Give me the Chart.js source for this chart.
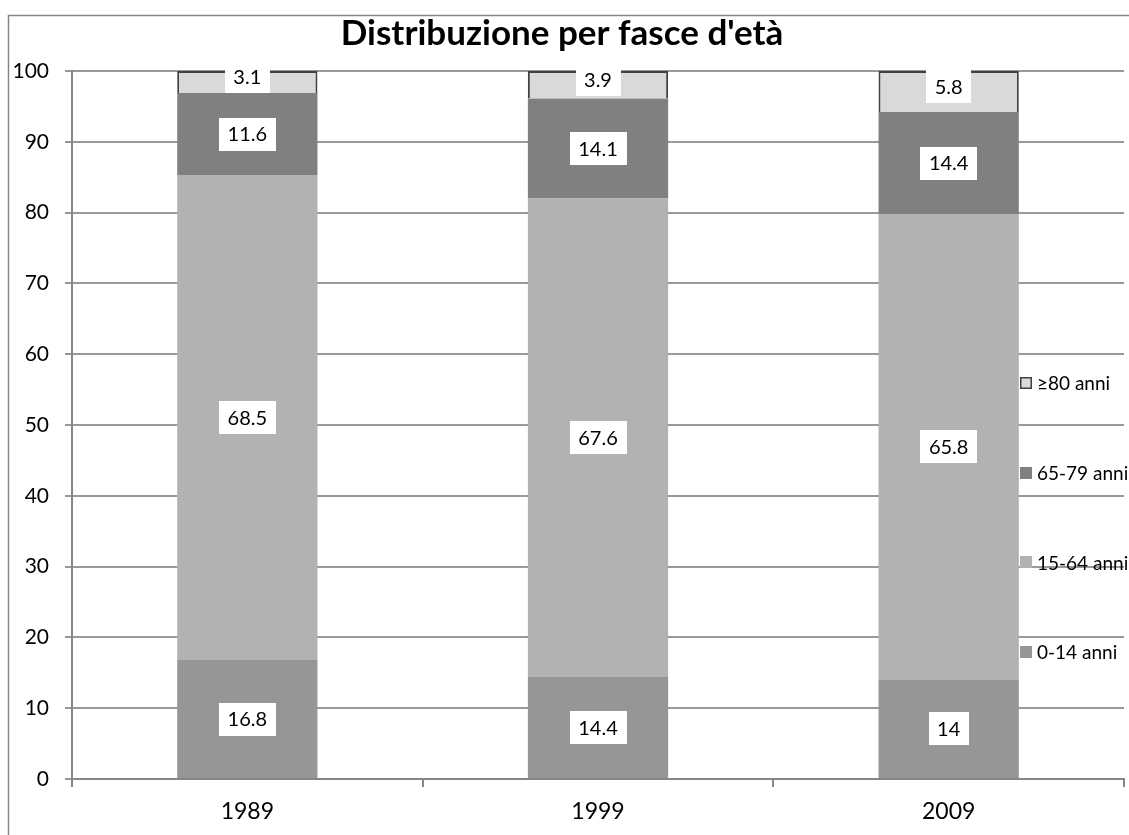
<!DOCTYPE html>
<html>
<head>
<meta charset="utf-8">
<script src="https://cdn.jsdelivr.net/npm/chart.js@4/dist/chart.umd.min.js"></script>
<style>
  html, body { margin: 0; padding: 0; background: #fff; }
  #wrap { width: 1129px; height: 835px; position: relative; }
</style>
</head>
<body>
<div id="wrap"><canvas id="c"></canvas></div>
<script>
// Age-group shares (%) by census year
const categories = ['1989', '1999', '2009'];
const seriesLabels = ['0-14 anni', '15-64 anni', '65-79 anni', '\u226580 anni'];
const age0to14 = [16.8, 14.4, 14];
const age15to64 = [68.5, 67.6, 65.8];
const age65to79 = [11.6, 14.1, 14.4];
const age80plus = [3.1, 3.9, 5.8];
const yMin = 0, yMax = 100, yStep = 10;

const FONT = 'Lato, "Open Sans", sans-serif';

// Outer frame of the chart object
const framePlugin = {
  id: 'frame',
  beforeDraw(chart) {
    const ctx = chart.ctx;
    ctx.save();
    ctx.fillStyle = '#fff';
    ctx.fillRect(0, 0, chart.width, chart.height);
    ctx.strokeStyle = '#868686';
    ctx.lineWidth = 1.5;
    ctx.strokeRect(8.5, 15.5, chart.width + 20, chart.height + 20);
    ctx.restore();
  }
};

// Value labels in white boxes at the middle of each segment
const valueLabels = {
  id: 'valueLabels',
  afterDatasetsDraw(chart) {
    const ctx = chart.ctx;
    ctx.save();
    ctx.font = '20px ' + FONT;
    ctx.textAlign = 'center';
    ctx.textBaseline = 'middle';
    chart.data.datasets.forEach((ds, i) => {
      const meta = chart.getDatasetMeta(i);
      meta.data.forEach((bar, j) => {
        const v = ds.data[j];
        const p = bar.getProps(['x', 'y', 'base'], true);
        let cy = (p.y + p.base) / 2;
        if (i === chart.data.datasets.length - 1) cy -= 5;
        const txt = String(v);
        const w = ctx.measureText(txt).width + 17;
        const h = 33;
        ctx.fillStyle = '#fff';
        ctx.fillRect(Math.round(p.x - w / 2), Math.round(cy - h / 2), Math.round(w), h);
        ctx.fillStyle = '#000';
        ctx.fillText(txt, p.x, cy + 1);
      });
    });
    ctx.restore();
  }
};

// Legend drawn inside the plot, at its right edge, last series on top
const insideLegend = {
  id: 'insideLegend',
  afterDraw(chart) {
    const ctx = chart.ctx;
    const a = chart.chartArea;
    const sets = chart.data.datasets;
    ctx.save();
    ctx.font = '19px ' + FONT;
    ctx.textAlign = 'left';
    ctx.textBaseline = 'middle';
    const x0 = 1020, sq = 12, gap = 89.7, firstY = a.top + 312;
    for (let k = 0; k < sets.length; k++) {
      const ds = sets[sets.length - 1 - k];
      const y = firstY + k * gap;
      ctx.fillStyle = ds.backgroundColor;
      ctx.fillRect(x0, Math.round(y - sq / 2), sq, sq);
      if (ds.borderWidth) {
        ctx.strokeStyle = ds.borderColor;
        ctx.lineWidth = 1.5;
        ctx.strokeRect(x0 + 0.75, Math.round(y - sq / 2) + 0.75, sq - 1.5, sq - 1.5);
      }
      ctx.fillStyle = '#000';
      ctx.fillText(ds.label, x0 + 17, y + 1);
    }
    ctx.restore();
  }
};

new Chart(document.getElementById('c'), {
  type: 'bar',
  data: {
    labels: categories,
    datasets: [
      { label: seriesLabels[0], data: age0to14, backgroundColor: '#969696', borderWidth: 0 },
      { label: seriesLabels[1], data: age15to64, backgroundColor: '#b2b2b2', borderWidth: 0 },
      { label: seriesLabels[2], data: age65to79, backgroundColor: '#808080', borderWidth: 0 },
      { label: seriesLabels[3], data: age80plus, backgroundColor: '#d9d9d9', borderColor: '#404040', borderWidth: 2 }
    ]
  },
  options: {
    responsive: true,
    maintainAspectRatio: false,
    devicePixelRatio: 1,
    animation: false,
    datasets: { bar: { categoryPercentage: 1, barPercentage: 0.4 } },
    layout: { padding: { left: 0, right: 5, top: 0, bottom: 0 } },
    plugins: {
      legend: { display: false },
      tooltip: { enabled: false },
      title: {
        display: true,
        text: "Distribuzione per fasce d'et\u00e0",
        color: '#000',
        font: { family: FONT, size: 35, weight: 'bold', lineHeight: 1.2 },
        padding: { top: 13, bottom: 16 }
      }
    },
    scales: {
      x: {
        stacked: true,
        grid: { offset: true, drawOnChartArea: false, drawTicks: true, tickLength: 8, color: '#868686', lineWidth: 2 },
        border: { display: true, color: '#868686', width: 2 },
        ticks: { color: '#000', font: { family: FONT, size: 23 }, padding: 11 },
        afterFit(scale) { scale.height = 56; }
      },
      y: {
        stacked: true,
        min: yMin,
        max: yMax,
        ticks: { stepSize: yStep, color: '#000', font: { family: FONT, size: 21 }, padding: 16 },
        grid: { color: '#999', lineWidth: 2, drawTicks: true, tickLength: 7 },
        border: { display: true, color: '#868686', width: 2 },
        afterFit(scale) { scale.width = 72; }
      }
    }
  },
  plugins: [framePlugin, valueLabels, insideLegend]
});
</script>
</body>
</html>
